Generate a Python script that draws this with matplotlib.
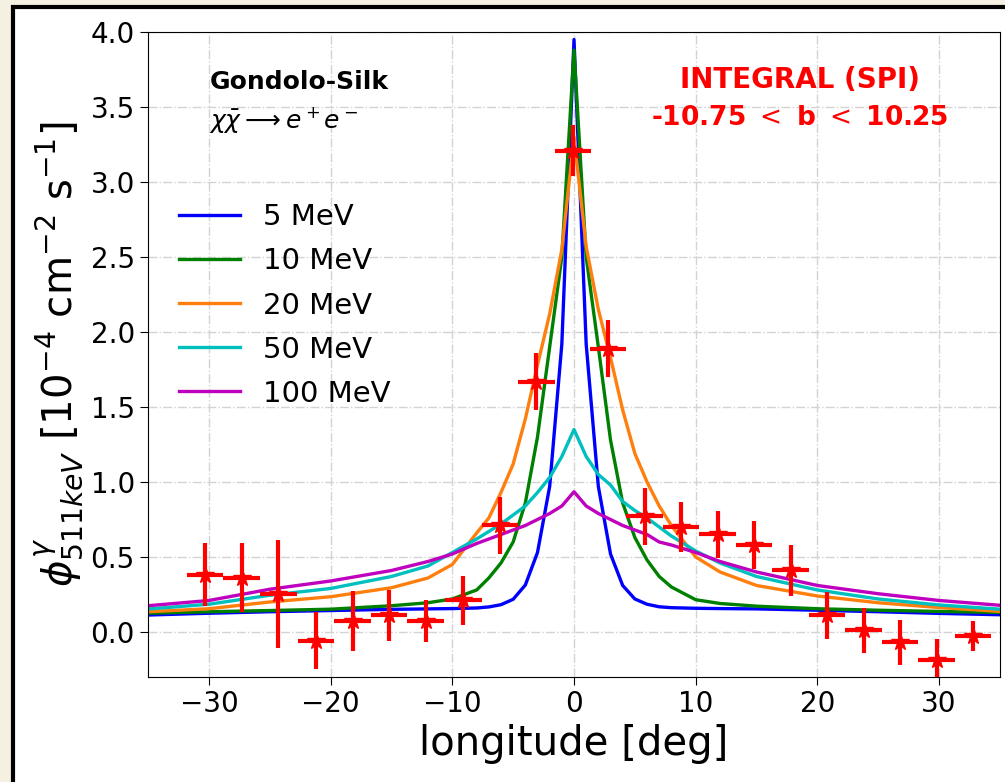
import matplotlib
matplotlib.use("Agg")
import matplotlib.pyplot as plt
from matplotlib.patches import Rectangle

# model curves
lon = [-35, -30, -25, -20, -15, -12, -10, -8, -7, -6, -5, -4, -3, -2, -1, 0,
       1, 2, 3, 4, 5, 6, 7, 8, 10, 12, 15, 20, 25, 30, 35]
flux_5 = [0.113, 0.125, 0.135, 0.143, 0.151, 0.154, 0.156, 0.160, 0.167, 0.182, 0.218, 0.313, 0.53, 0.97, 1.92, 3.95,
          1.92, 0.97, 0.52, 0.31, 0.22, 0.185, 0.168, 0.162, 0.158, 0.156, 0.154, 0.145, 0.135, 0.124, 0.115]
flux_10 = [0.125, 0.135, 0.143, 0.152, 0.175, 0.195, 0.22, 0.28, 0.36, 0.46, 0.60, 0.86, 1.30, 1.90, 2.50, 3.88,
           2.50, 1.90, 1.28, 0.86, 0.63, 0.48, 0.37, 0.30, 0.215, 0.19, 0.172, 0.155, 0.145, 0.137, 0.13]
flux_20 = [0.135, 0.155, 0.20, 0.235, 0.295, 0.36, 0.45, 0.66, 0.76, 0.93, 1.12, 1.42, 1.78, 2.12, 2.55, 3.30,
           2.57, 2.15, 1.83, 1.48, 1.19, 1.00, 0.84, 0.71, 0.50, 0.40, 0.31, 0.24, 0.195, 0.163, 0.137]
flux_50 = [0.153, 0.185, 0.245, 0.29, 0.37, 0.44, 0.53, 0.62, 0.67, 0.72, 0.78, 0.84, 0.93, 1.03, 1.17, 1.35,
           1.17, 1.05, 0.98, 0.87, 0.81, 0.76, 0.70, 0.64, 0.54, 0.46, 0.37, 0.28, 0.22, 0.18, 0.152]
flux_100 = [0.175, 0.21, 0.285, 0.34, 0.41, 0.47, 0.52, 0.59, 0.62, 0.65, 0.68, 0.71, 0.75, 0.79, 0.84, 0.935,
            0.84, 0.79, 0.75, 0.71, 0.68, 0.65, 0.60, 0.58, 0.53, 0.47, 0.40, 0.31, 0.255, 0.21, 0.178]

curve_labels = ["5 MeV", "10 MeV", "20 MeV", "50 MeV", "100 MeV"]
curve_colors = ["b", "g", "#ff7f0e", "c", "m"]

# INTEGRAL/SPI data points
spi_lon = [-30.3, -27.3, -24.3, -21.2, -18.2, -15.2, -12.2, -9.1, -6.1, -3.1, -0.1,
           2.8, 5.8, 8.8, 11.8, 14.8, 17.8, 20.8, 23.8, 26.8, 29.8, 32.8]
spi_flux = [0.38, 0.36, 0.25, -0.06, 0.07, 0.11, 0.07, 0.21, 0.71, 1.67, 3.21,
            1.89, 0.77, 0.70, 0.65, 0.58, 0.41, 0.11, 0.01, -0.07, -0.19, -0.03]
spi_err = [0.21, 0.23, 0.36, 0.19, 0.20, 0.17, 0.14, 0.165, 0.19, 0.19, 0.17,
           0.19, 0.19, 0.17, 0.155, 0.16, 0.17, 0.155, 0.15, 0.15, 0.14, 0.10]
spi_bin = 1.5

fig = plt.figure(figsize=(10.05, 7.82), dpi=100, facecolor="#f6f0e2")
fig.patches.append(Rectangle((13 / 1005, -0.1), 1.2, 1.1 - 7 / 782, transform=fig.transFigure,
                             facecolor="white", edgecolor="black", lw=3, zorder=-10))
ax = fig.add_axes([0.1473, 0.1343, 0.8477, 0.8247])

for flux, lab, col in zip([flux_5, flux_10, flux_20, flux_50, flux_100], curve_labels, curve_colors):
    ax.plot(lon, flux, color=col, lw=2.4, label=lab)

ax.errorbar(spi_lon, spi_flux, xerr=spi_bin, yerr=spi_err, fmt="*", color="red",
            ms=13, elinewidth=3, capsize=0, zorder=5)

ax.set_xlim(-35, 35)
ax.set_ylim(-0.3, 4.0)
ax.set_yticks([0.0, 0.5, 1.0, 1.5, 2.0, 2.5, 3.0, 3.5, 4.0])
ax.grid(True, ls="-.", color="lightgray", lw=1)
ax.tick_params(labelsize=20, length=6)
ax.set_xlabel("longitude [deg]", fontsize=29)
ax.set_ylabel(r"$\phi^{\gamma}_{511keV}$ [10$^{-4}$ cm$^{-2}$ s$^{-1}$]", fontsize=29)

ax.text(0.072, 0.923, "Gondolo-Silk", transform=ax.transAxes, fontsize=18,
        fontweight="bold", va="center")
ax.text(0.072, 0.864, r"$\chi\bar{\chi} \longrightarrow e^+e^-$", transform=ax.transAxes,
        fontsize=18, va="center")
ax.text(0.765, 0.926, "INTEGRAL (SPI)", transform=ax.transAxes, fontsize=20,
        fontweight="bold", color="red", ha="center", va="center")
ax.text(0.765, 0.866, r"-10.75 $<$ b $<$ 10.25", transform=ax.transAxes, fontsize=19,
        fontweight="bold", color="red", ha="center", va="center")

ax.legend(loc="upper left", bbox_to_anchor=(0.005, 0.775), frameon=False, fontsize=21,
          labelspacing=0.55, handlelength=2.1)

fig.savefig("out.png", dpi=100, facecolor=fig.get_facecolor())
